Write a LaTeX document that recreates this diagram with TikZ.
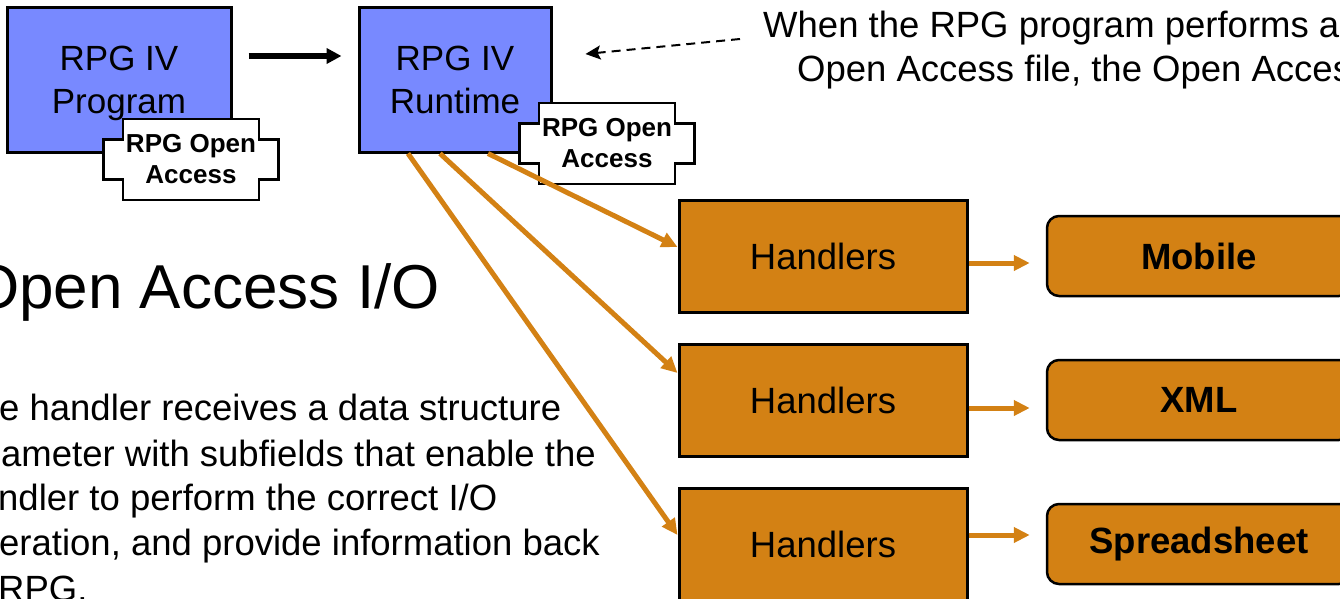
\documentclass[tikz,border=0pt]{standalone}
\usepackage{fontspec}
\setmainfont{Liberation Sans}
\usetikzlibrary{arrows.meta, positioning}
\definecolor{rpgblue}{RGB}{120,137,255}
\definecolor{hdlorange}{RGB}{211,129,20}

\begin{document}
\begin{tikzpicture}[
    x=1pt, y=-1pt,
    every node/.style={inner sep=0pt, text=black},
    bluebox/.style={draw=black, line width=3pt, fill=rpgblue, align=center, text depth=0pt, font=\fontsize{35}{43}\selectfont},
    oatext/.style={align=center, font=\bfseries\fontsize{26}{31}\selectfont},
    crossline/.style={draw=black, line width=2.5pt, fill=white},
    handbox/.style={draw=black, line width=3pt, fill=hdlorange, minimum width=288pt, minimum height=112pt, font=\fontsize{36.5}{44}\selectfont},
    kindbox/.style={draw=black, line width=2.5pt, fill=hdlorange, rounded corners=12pt, minimum width=304pt, minimum height=80pt, font=\bfseries\fontsize{36.5}{44}\selectfont},
    body/.style={anchor=base west, font=\fontsize{36.5}{44}\selectfont},
    flow/.style={line width=6pt, shorten <=16pt, shorten >=16pt, -{Triangle[length=15pt,width=15pt]}},
    feed/.style={draw=hdlorange, line width=5pt, -{Triangle[length=16pt,width=15pt]}},
    hint/.style={line width=2pt, dash pattern=on 9pt off 6pt, -{Stealth[length=15pt,width=14pt,inset=3pt]}},
    oacross/.pic={
        \path[crossline] (-68,-40.5) -- (68,-40.5) -- (68,-20) -- (87.5,-20) -- (87.5,20) -- (68,20)
            -- (68,40.5) -- (-68,40.5) -- (-68,20) -- (-87.5,20) -- (-87.5,-20) -- (-68,-20) -- cycle;
        \node[oatext] (-txt) at (0,0) {RPG Open\\Access};
    }
]
   \useasboundingbox (0,0) rectangle (1340,599);
   \clip (0,0) rectangle (1340,599);

   % RPG side
   \node[bluebox, minimum width=224pt, minimum height=144pt] (prog) at (119,80) {RPG IV\\Program};
   \node[bluebox, minimum width=192pt, minimum height=144pt] (rt) at (455,80) {RPG IV\\Runtime};
   \pic (oaprog) at (191,159.5) {oacross};
   \pic (oart) at (607,143.5) {oacross};
   \draw[flow] ([yshift=24pt]prog.east) -- ([yshift=24pt]rt.west);

   % note at the top
   \node[body] (note1) at (763,38) {When the RPG program performs a};
   \node[body] (note2) at (797,82) {Open Access file, the Open Access};
   \coordinate (notetail) at (740,39);
   \draw[hint] (notetail) -- ([xshift=33pt,yshift=26pt]rt.east);

   % handlers and targets
   \node[handbox] (h1) at (823,256) {Handlers};
   \node[handbox] (h2) at (823,400) {Handlers};
   \node[handbox] (h3) at (823,544) {Handlers};
   \node[kindbox] (m1) at (1199,256) {Mobile};
   \node[kindbox] (m2) at (1199,400) {XML};
   \node[kindbox] (m3) at (1199,544) {Spreadsheet};

   \draw[feed] ([xshift=33pt]rt.south) -- ([yshift=9pt]h1.west);
   \draw[feed] ([xshift=-15pt]rt.south) -- ([yshift=27pt]h2.west);
   \draw[feed] ([xshift=-47pt]rt.south) -- ([yshift=9pt]h3.west);
   \draw[feed, shorten >=16pt] ([yshift=-7pt]h1.east) -- ([yshift=-7pt]m1.west);
   \draw[feed, shorten >=16pt] ([yshift=-8pt]h2.east) -- ([yshift=-8pt]m2.west);
   \draw[feed, shorten >=16pt] ([yshift=9pt]h3.east) -- ([yshift=9pt]m3.west);

   % left text
   \node[anchor=base east, font=\fontsize{62}{70}\selectfont] (title) at (440,308) {Open Access I/O};
   \node[body] (b1) at (-1,420) {e handler receives a data structure};
   \node[body] (b2) at (1,466) {ameter with subfields that enable the};
   \node[body] (b3) at (-2,510) {ndler to perform the correct I/O};
   \node[body] (b4) at (-1,555) {eration, and provide information back};
   \node[body] (b5) at (-2,601) {RPG.};
\end{tikzpicture}
\end{document}
